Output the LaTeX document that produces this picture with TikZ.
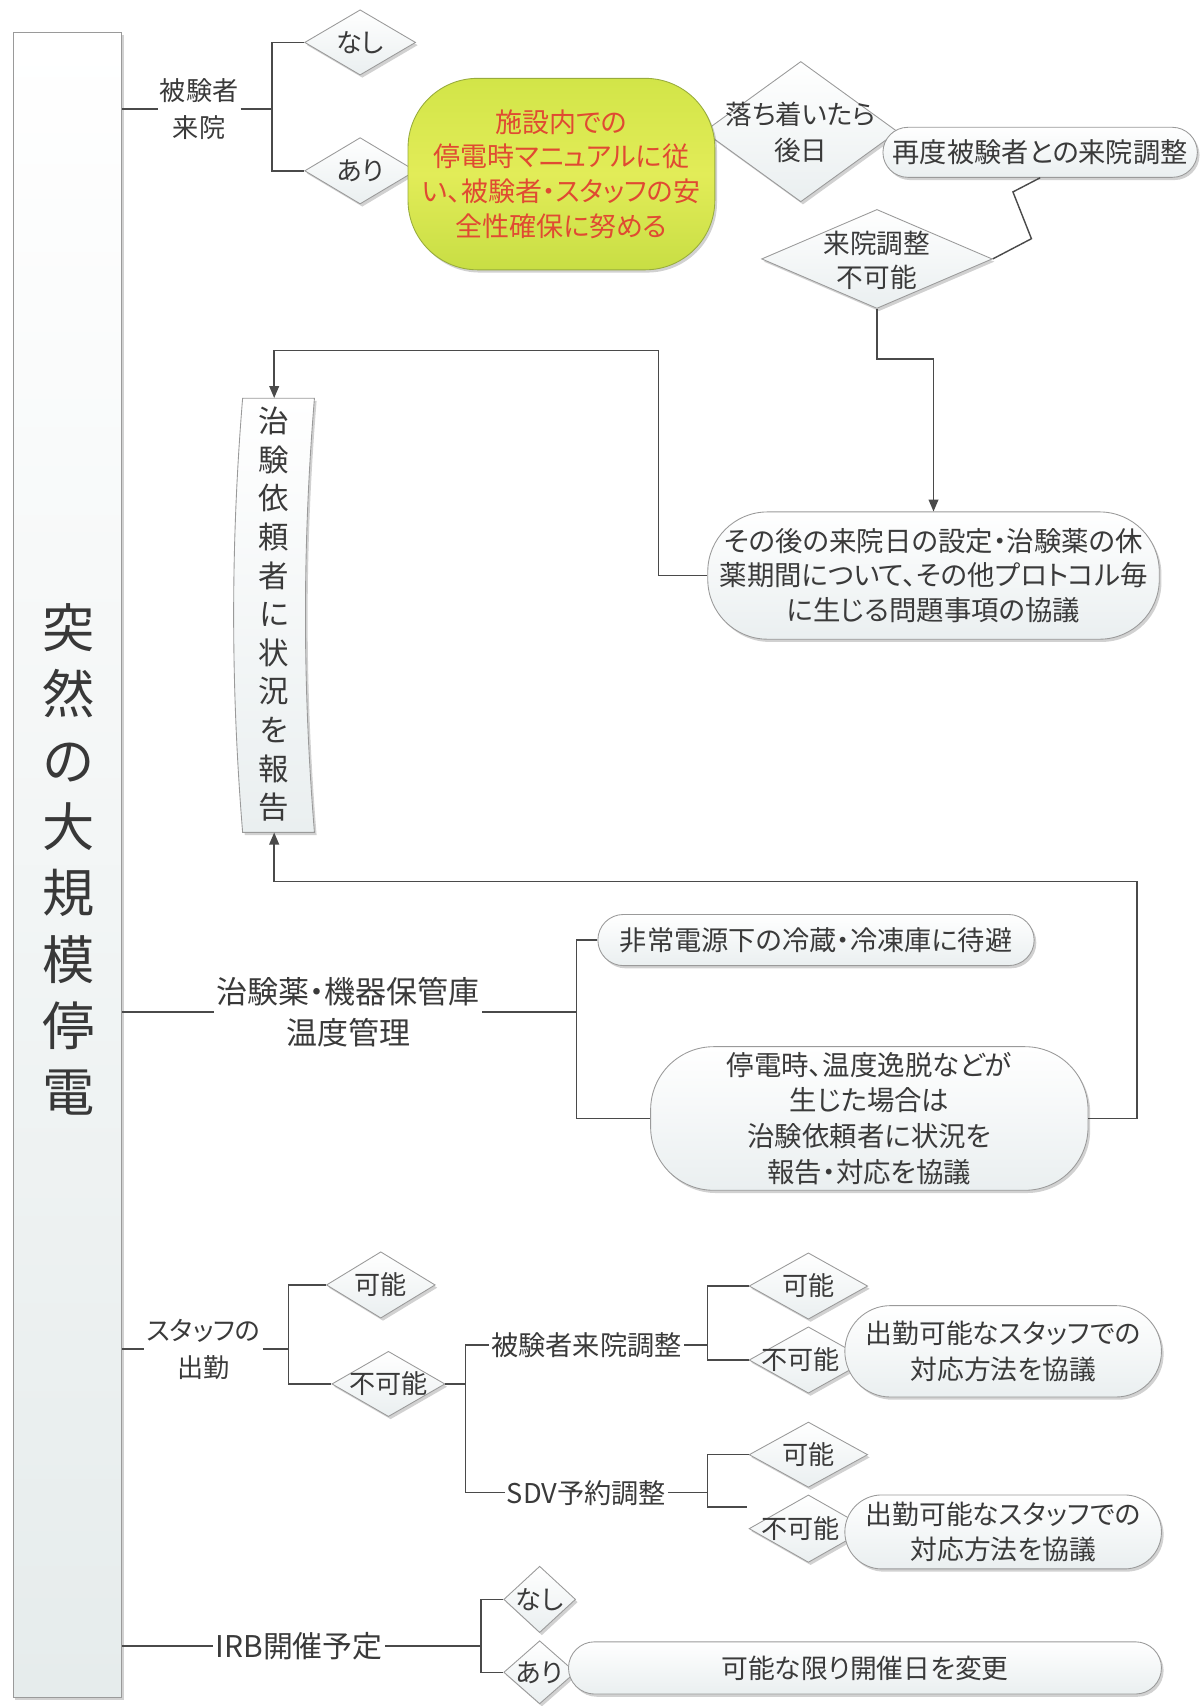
\documentclass[tikz,border=0pt]{standalone}
\usepackage{fontspec}
\setmainfont{Noto Sans CJK JP}[RawFeature=+palt]
\usetikzlibrary{shapes.geometric,shapes.misc,shadows,arrows.meta,calc}
\definecolor{lc}{HTML}{4A4A4A}
\definecolor{bc}{HTML}{9A9A9A}
\definecolor{tc}{HTML}{3A3A3A}
\definecolor{rc}{HTML}{E04A32}
\definecolor{boxb}{HTML}{EAEFF0}
\definecolor{mainb}{HTML}{E6ECEC}
\definecolor{gtop}{HTML}{D2E548}
\definecolor{gmid}{HTML}{E2EC58}
\definecolor{gbot}{HTML}{C8DE44}
\definecolor{gbd}{HTML}{98AC3C}
\newcommand\fsz[2]{\fontsize{#1}{#2}\selectfont}
\begin{document}
\begin{tikzpicture}[x=1pt,y=-1pt,
  ln/.style={draw=lc,line width=1.3pt},
  arr/.style={-{Triangle[length=11pt,width=9pt]}},
  shd/.style={drop shadow={shadow xshift=2pt,shadow yshift=-2.5pt,fill=black,opacity=0.18}},
  stad/.style={rectangle,rounded corners=#1,draw=bc,line width=0.8pt,top color=white,bottom color=boxb,shd,text=tc,align=center,inner sep=0pt},
  dia/.style={diamond,draw=bc,line width=0.8pt,top color=white,bottom color=boxb,shd,inner sep=0pt},
  dtxt/.style={text=tc,font=\fsz{24}{31},align=center,inner sep=0pt},
  lbl/.style={text=tc,align=center,inner sep=2pt},
  ]
\fill[white] (0,0) rectangle (1105,1568);
\path[use as bounding box] (0,0) rectangle (1105,1568);

% main column
\node[rectangle,draw=bc,line width=0.8pt,top color=white,bottom color=mainb,shd,minimum width=100pt,minimum height=1530pt,inner sep=0pt] (main) at (62,795) {};
\node[text=black!78,font=\fsz{48}{61},align=center] (title) at (63,790) {突\\然\\の\\大\\規\\模\\停\\電};

% ---------- branch 1 ----------
\node[lbl,font=\fsz{24}{34}] (lA) at (183,100) {被験者\\来院};
\coordinate (jA) at (250,100);
\node[dia,minimum width=102pt,minimum height=60pt] (dA1) at (331,39) {};
\node[dtxt] (tA1) at (dA1) {なし};
\node[dia,minimum width=102pt,minimum height=61pt] (dA2) at (331,157) {};
\node[dtxt] (tA2) at (dA2) {あり};
\node[dia,minimum width=178pt,minimum height=129pt] (dL) at (736,121) {};
\node[dtxt,font=\fsz{24.5}{33}] (tL) at (736,122) {落ち着いたら\\後日};
\node[rectangle,rounded corners=64pt,draw=gbd,line width=0.8pt,top color=gtop,bottom color=gbot,middle color=gmid,shd,minimum width=282pt,minimum height=176pt,text=rc,align=center,font=\fsz{24.8}{32},inner sep=0pt] (green) at (516,160) {施設内での\\停電時マニュアルに従\\い、被験者・スタッフの安\\全性確保に努める};
\node[stad=23pt,minimum width=289pt,minimum height=46pt,font=\fsz{25}{30}] (re1) at (956,140) {再度被験者との来院調整};
\node[dia,minimum width=212pt,minimum height=91pt] (dI) at (806,238) {};
\node[dtxt,font=\fsz{24.5}{31}] (tI) at (806,239) {来院調整\\不可能};
\node[stad=55pt,minimum width=415pt,minimum height=117pt,font=\fsz{25.2}{31.5}] (re2) at (858,529) {その後の来院日の設定・治験薬の休\\薬期間について、その他プロトコル毎\\に生じる問題事項の協議};

% vertical report box
\path[top color=white,bottom color=boxb,draw=bc,line width=0.8pt,shd] (223,366) .. controls (212,500) and (212,630) .. (223,765) -- (289,765) .. controls (278,630) and (278,500) .. (289,366) -- cycle;
\node[minimum width=66pt,minimum height=399pt,inner sep=0pt] (rep) at (252,565.5) {};
\node[text=tc,font=\fsz{28}{35.5},align=center] (tRep) at (252,564.5) {治\\験\\依\\頼\\者\\に\\状\\況\\を\\報\\告};

\draw[ln] (main.east |- lA.west) -- (lA.west);
\draw[ln] (lA.east) -- (jA);
\draw[ln] (dA1.west) -| (jA) |- (dA2.west);
\draw[ln] (re1.south) -- ++(-25,13) -- ++(17,43) -- (dI.east);
\draw[ln,arr] (dI.south) -- ++(0,46) -| (re2.north);
\coordinate (k1) at (605,322);
\draw[ln,arr] (re2.west) -| (k1) -| (rep.north);

% ---------- branch 2 ----------
\node[lbl,font=\fsz{28.5}{38}] (lB) at (320,930) {治験薬・機器保管庫\\温度管理};
\coordinate (jB) at (530,930);
\node[stad=23.5pt,minimum width=401pt,minimum height=47pt,font=\fsz{25}{30}] (rB1) at (750,864) {非常電源下の冷蔵・冷凍庫に待避};
\node[stad=58pt,minimum width=402pt,minimum height=132pt,font=\fsz{25.2}{33}] (rB2) at (799,1028) {停電時、温度逸脱などが\\生じた場合は\\治験依頼者に状況を\\報告・対応を協議};
\draw[ln] (main.east |- lB.west) -- (lB.west);
\draw[ln] (lB.east) -- (jB);
\draw[ln] (rB1.west) -| (jB) |- (rB2.west);
\coordinate (k2) at (1045,810);
\draw[ln,arr] (rB2.east) -| (k2) -| (rep.south);

% ---------- branch 3 ----------
\node[lbl,font=\fsz{24}{34}] (lC) at (187,1240) {スタッフの\\出勤};
\coordinate (jC) at (265,1240);
\node[dia,minimum width=100pt,minimum height=61pt] (dC1) at (350,1181) {};
\node[dtxt] (tC1) at (dC1) {可能};
\node[dia,minimum width=104pt,minimum height=60pt] (dC2) at (357,1272) {};
\node[dtxt] (tC2) at (dC2) {不可能};
\coordinate (jC2) at (428,1272);
\node[lbl,font=\fsz{25}{30}] (lC1) at (539,1236) {被験者来院調整};
\node[lbl,font=\fsz{25}{30}] (lC2) at (539,1372) {SDV予約調整};
\coordinate (jD1) at (650,1236);
\coordinate (jD2) at (650,1372);
\node[dia,minimum width=109pt,minimum height=61pt] (dD1) at (743,1182) {};
\node[dtxt] (tD1) at (dD1) {可能};
\node[dia,minimum width=109pt,minimum height=61pt] (dD2) at (743,1250) {};
\node[dtxt] (tD2) at (736,1250) {不可能};
\node[stad=42pt,minimum width=291pt,minimum height=84pt,font=\fsz{24.6}{33}] (sD1) at (922,1242) {出勤可能なスタッフでの\\対応方法を協議};
\node[dia,minimum width=109pt,minimum height=60pt] (dD3) at (743,1337) {};
\node[dtxt] (tD3) at (dD3) {可能};
\node[dia,minimum width=109pt,minimum height=62pt] (dD4) at (743,1405) {};
\node[dtxt] (tD4) at (736,1405) {不可能};
\coordinate (eD4) at (687,1385);
\node[stad=34pt,minimum width=291pt,minimum height=68pt,font=\fsz{24.6}{33}] (sD2) at (922,1408) {出勤可能なスタッフでの\\対応方法を協議};
\draw[ln] (main.east |- lC.west) -- (lC.west);
\draw[ln] (lC.east) -- (jC);
\draw[ln] (dC1.west) -| (jC) |- (dC2.west);
\draw[ln] (dC2.east) -- (jC2);
\draw[ln] (lC1.west) -| (jC2) |- (lC2.west);
\draw[ln] (lC1.east) -- (jD1);
\draw[ln] (dD1.west) -| (jD1) |- (dD2.west);
\draw[ln] (lC2.east) -- (jD2);
\draw[ln] (dD3.west) -| (jD2) |- (eD4);

% ---------- branch 4 ----------
\node[lbl,font=\fsz{27.5}{30}] (lD) at (275,1513) {IRB開催予定};
\coordinate (jE) at (442,1513);
\node[dia,minimum width=66pt,minimum height=61pt] (dE1) at (496,1470) {};
\node[dtxt] (tE1) at (dE1) {なし};
\node[dia,minimum width=66pt,minimum height=58pt] (dE2) at (496,1537) {};
\node[dtxt] (tE2) at (dE2) {あり};
\node[stad=24pt,minimum width=545pt,minimum height=48pt,font=\fsz{24.6}{30}] (sE) at (795,1533) {可能な限り開催日を変更};
\draw[ln] (main.east |- lD.west) -- (lD.west);
\draw[ln] (lD.east) -- (jE);
\draw[ln] (dE1.west) -| (jE) |- (dE2.west);
\end{tikzpicture}
\end{document}
